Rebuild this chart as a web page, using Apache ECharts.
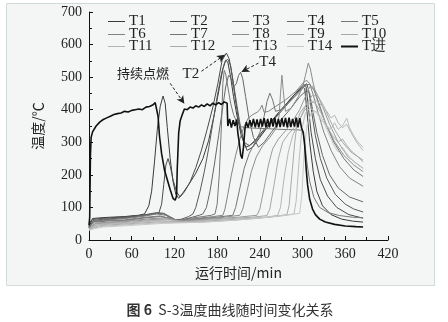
<!DOCTYPE html>
<html>
<head>
<meta charset="utf-8">
<script src="https://cdn.jsdelivr.net/npm/echarts@6/dist/echarts.min.js"></script>
<style>
  html, body { margin: 0; padding: 0; background: #ffffff; }
  #chart { width: 448px; height: 322px; }
</style>
</head>
<body>
<div id="chart"></div>
<script>
// Series names, in legend order
const seriesNames = ['T1','T2','T3','T4','T5','T6','T7','T8','T9','T10','T11','T12','T13','T14','T进'];

// Axis ticks
const xTicks = [0, 60, 120, 180, 240, 300, 360, 420];
const yTicks = [0, 100, 200, 300, 400, 500, 600, 700];

// Temperature readings, [time (min), temperature (°C)]
const T1 = [[0,42],[2,55],[5,66],[15,68],[30,70],[50,72],[70,76],[78,80],[84,105],[88,150],[92,240],[96,340],[100,410],[104,442],[107,420],[110,345],[114,250],[118,180],[122,140],[126,128],[132,145],[140,170],[150,205],[160,250],[168,305],[176,385],[183,465],[188,525],[192,552],[195,546],[199,500],[203,440],[208,380],[214,320],[220,285],[226,290],[235,310],[248,345],[262,380],[276,415],[290,450],[300,470],[303,465],[306,400],[310,300],[315,210],[320,150],[328,105],[340,78],[355,64],[370,58],[385,55]];
const T2 = [[0,40],[2,52],[5,63],[15,66],[30,68],[50,71],[70,75],[90,80],[98,82],[102,110],[105,170],[108,230],[111,250],[114,228],[118,185],[123,148],[128,132],[134,148],[142,178],[150,222],[158,276],[166,340],[174,408],[181,480],[187,552],[193,574],[197,556],[201,505],[205,440],[210,370],[216,310],[222,275],[230,285],[240,315],[252,350],[266,390],[280,425],[294,460],[302,478],[305,470],[308,410],[312,330],[318,250],[325,185],[335,135],[348,100],[365,78],[385,67]];
const T3 = [[0,38],[3,50],[6,60],[20,64],[40,67],[60,72],[80,78],[95,84],[105,82],[115,70],[122,62],[130,64],[140,72],[146,80],[150,100],[156,150],[162,210],[168,280],[174,360],[180,440],[186,510],[191,548],[195,555],[199,535],[203,480],[208,410],[213,345],[218,300],[225,290],[235,305],[248,340],[262,375],[276,410],[290,445],[300,470],[306,480],[309,455],[313,390],[318,320],[325,250],[334,190],[346,140],[360,110],[372,95],[385,86]];
const T4 = [[0,37],[3,48],[6,58],[20,62],[40,66],[60,70],[80,76],[95,82],[105,80],[115,68],[122,60],[132,62],[145,70],[155,76],[160,80],[165,100],[170,150],[176,230],[182,320],[188,410],[192,470],[196,505],[199,500],[203,470],[207,480],[210,505],[213,515],[216,495],[220,440],[225,370],[231,315],[238,285],[246,300],[256,330],[268,365],[282,400],[296,440],[306,460],[310,450],[314,400],[320,330],[328,260],[338,200],[350,160],[366,132],[385,117]];
const T5 = [[0,36],[3,46],[6,56],[20,60],[40,64],[60,68],[80,74],[95,80],[108,76],[118,64],[125,60],[140,66],[160,72],[172,76],[177,80],[180,110],[183,200],[186,350],[188,480],[190,521],[192,510],[195,470],[199,420],[203,385],[208,360],[213,348],[220,345],[235,343],[250,342],[265,340],[280,339],[295,338],[300,336],[303,300],[306,240],[310,180],[316,130],[324,100],[336,84],[352,75],[370,70],[385,68]];
const T6 = [[0,40],[4,50],[8,58],[25,60],[50,62],[80,70],[100,74],[115,66],[125,60],[150,66],[175,72],[188,76],[191,95],[195,140],[200,200],[206,260],[212,310],[218,350],[224,375],[230,385],[236,392],[240,400],[243,414],[246,392],[252,395],[262,410],[276,430],[290,455],[302,485],[306,490],[310,480],[315,445],[322,390],[330,330],[340,275],[352,225],[366,190],[385,165]];
const T7 = [[0,38],[4,48],[8,55],[25,58],[50,60],[80,68],[100,72],[118,64],[128,58],[150,64],[180,70],[202,76],[206,100],[212,160],[218,220],[225,265],[232,295],[240,330],[246,380],[250,425],[254,451],[258,430],[262,395],[270,400],[282,425],[296,455],[304,475],[310,478],[316,460],[323,420],[332,360],[344,300],[358,250],[372,215],[385,195]];
const T8 = [[0,36],[5,45],[10,52],[30,55],[60,60],[90,66],[110,68],[120,62],[130,58],[160,64],[190,70],[212,76],[216,95],[222,150],[228,210],[235,255],[244,290],[254,315],[262,340],[267,380],[269,450],[271,506],[273,455],[276,395],[284,405],[294,440],[300,470],[304,505],[308,543],[311,525],[315,480],[322,420],[332,360],[344,305],[358,260],[372,230],[385,210]];
const T9 = [[0,35],[5,43],[10,50],[30,53],[60,58],[90,63],[110,64],[125,58],[140,58],[170,64],[210,70],[236,76],[240,95],[246,160],[252,230],[258,280],[266,310],[276,335],[286,365],[296,400],[304,440],[310,470],[314,472],[320,450],[328,410],[338,355],[350,300],[364,255],[385,220]];
const T10 = [[0,34],[6,42],[12,48],[30,51],[60,55],[90,60],[115,62],[130,57],[160,60],[200,66],[230,70],[250,75],[254,95],[260,170],[266,250],[272,300],[280,325],[290,350],[298,380],[306,420],[314,445],[322,440],[330,410],[338,370],[346,335],[356,300],[368,270],[385,245]];
const T11 = [[0,33],[6,40],[12,46],[30,49],[60,53],[90,58],[120,58],[140,56],[180,60],[220,66],[250,70],[265,76],[269,100],[274,190],[280,270],[286,320],[294,360],[302,395],[310,420],[318,430],[326,415],[334,395],[340,375],[345,383],[350,360],[356,345],[362,355],[368,330],[376,300],[385,275]];
const T12 = [[0,32],[6,38],[15,44],[35,47],[65,51],[95,55],[125,56],[150,55],[190,60],[230,66],[260,72],[278,78],[281,105],[285,200],[289,300],[293,370],[297,392],[303,410],[310,425],[318,420],[326,390],[334,350],[342,320],[350,300],[356,310],[362,290],[370,270],[378,255],[385,240]];
const T13 = [[0,31],[8,37],[18,42],[40,45],[70,49],[100,53],[130,54],[160,55],[200,60],[240,67],[270,74],[288,80],[291,120],[295,240],[299,340],[304,390],[310,405],[318,395],[326,370],[334,350],[340,340],[345,360],[350,340],[356,350],[362,374],[366,345],[372,320],[378,300],[385,285]];
const T14 = [[0,30],[8,35],[20,40],[45,43],[75,47],[105,51],[135,53],[170,56],[210,62],[250,70],[280,77],[296,82],[299,140],[302,260],[306,350],[312,390],[320,395],[328,370],[336,330],[344,290],[350,270],[356,285],[362,265],[370,245],[378,230],[385,220]];
const Tjin = [[0,45],[1,70],[2,260],[3,315],[5,332],[10,350],[15,362],[20,370],[25,375],[30,380],[35,385],[40,388],[45,390],[50,395],[55,393],[60,398],[65,400],[70,402],[75,400],[80,408],[85,410],[90,415],[93,422],[95,418],[97,380],[99,320],[102,265],[106,215],[110,185],[114,155],[118,128],[121,122],[123,135],[124,220],[126,330],[128,365],[131,385],[134,402],[138,400],[142,408],[146,405],[150,412],[154,408],[158,415],[162,410],[166,418],[170,412],[174,420],[178,415],[182,422],[186,416],[190,424],[194,420],[195,350],[197.5,372],[200,345],[202.5,368],[205,350],[207.5,370],[209,330],[211,300],[213,262],[215,250],[217,285],[219,340],[221,362],[223.5,345],[226,368],[228.5,348],[231,372],[233.5,346],[236,370],[238.5,346],[241,372],[243.5,348],[246,374],[248.5,347],[251,372],[253.5,346],[256,374],[258.5,348],[261,375],[263.5,346],[266,372],[268.5,347],[271,374],[273.5,348],[276,375],[278.5,346],[281,376],[283.5,347],[286,372],[288.5,348],[291,376],[293.5,346],[296,374],[298.5,344],[301,330],[303,290],[305,220],[307,170],[310,125],[314,95],[318,78],[324,64],[332,55],[345,48],[360,43],[375,41],[385,40]];

const seriesData = [T1,T2,T3,T4,T5,T6,T7,T8,T9,T10,T11,T12,T13,T14,Tjin];

// Annotation anchors in data units
const ignitionLabel = { text: '持续点燃', at: [76, 512] };
const ignitionArrow = [[114, 481], [134, 418]];
const t2Label = { text: 'T2', at: [143, 509] };
const t2Arrow = [[158, 518], [191, 569]];
const t4Label = { text: 'T4', at: [251, 546] };
const t4Arrow = [[238, 543], [214, 516]];

// Stroke colours per series
const lineColors = ['#3a3a3a','#4a4a4a','#585858','#666666','#777777','#828282','#747474','#8c8c8c','#9a9a9a','#a8a8a8','#b4b4b4','#aaaaaa','#bcbcbc','#c8c8c8','#111111'];

// Legend grid: 5 columns × 3 rows
const legendCols = [108, 170, 232, 287, 341];
const legendRows = [14, 27, 39];

const serif = '"Liberation Serif", "Times New Roman", serif';
const cjk = '"Noto Sans CJK SC", sans-serif';

const chart = echarts.init(document.getElementById('chart'), null, { renderer: 'canvas' });

const legends = seriesNames.map((name, i) => ({
  data: [name],
  left: legendCols[i % 5],
  top: legendRows[Math.floor(i / 5)],
  padding: 0,
  icon: 'rect',
  itemWidth: 17,
  itemHeight: name === 'T进' ? 2 : 1,
  selectedMode: false,
  textStyle: { fontFamily: serif, fontSize: 15, color: '#222', padding: [0, 0, 0, -1] }
}));

const arrowLine = (pair) => [
  { coord: pair[0], symbol: 'none' },
  { coord: pair[1], symbol: 'arrow' }
];

const series = seriesNames.map((name, i) => {
  const s = {
    name,
    type: 'line',
    data: seriesData[i],
    symbol: 'none',
    smooth: false,
    animation: false,
    z: name === 'T进' ? 5 : 3,
    lineStyle: { color: lineColors[i], width: name === 'T进' ? 1.6 : 1 },
    itemStyle: { color: lineColors[i] }
  };
  if (name === 'T进') {
    s.markLine = {
      silent: true,
      animation: false,
      symbolSize: [6, 8],
      label: { show: false },
      lineStyle: { type: [3, 2], color: '#222', width: 1 },
      data: [arrowLine(ignitionArrow), arrowLine(t2Arrow), arrowLine(t4Arrow)]
    };
  }
  return s;
});

chart.setOption({
  animation: false,
  backgroundColor: '#ffffff',
  grid: { left: 89, right: 60, top: 12, bottom: 82 },
  legend: legends,
  xAxis: {
    type: 'value',
    min: xTicks[0],
    max: xTicks[xTicks.length - 1],
    interval: 60,
    name: '运行时间/min',
    nameLocation: 'middle',
    nameGap: 26,
    nameTextStyle: { fontFamily: cjk, fontSize: 14, color: '#222' },
    axisLine: { show: true, lineStyle: { color: '#111', width: 1 } },
    axisTick: { show: true, inside: true, length: 4, lineStyle: { color: '#111' } },
    minorTick: { show: true, splitNumber: 2, length: 3, lineStyle: { color: '#111' } },
    splitLine: { show: false },
    axisLabel: { fontFamily: serif, fontSize: 14, color: '#222', margin: 7,
                 formatter: (v) => xTicks.includes(v) ? String(v) : '' }
  },
  yAxis: {
    type: 'value',
    min: yTicks[0],
    max: yTicks[yTicks.length - 1],
    interval: 100,
    name: '温度/℃',
    nameLocation: 'middle',
    nameGap: 44,
    nameTextStyle: { fontFamily: cjk, fontSize: 14, color: '#222' },
    axisLine: { show: true, lineStyle: { color: '#111', width: 1 } },
    axisTick: { show: true, inside: true, length: 4, lineStyle: { color: '#111' } },
    minorTick: { show: true, splitNumber: 2, length: 3, lineStyle: { color: '#111' } },
    splitLine: { show: false },
    axisLabel: { fontFamily: serif, fontSize: 14, color: '#222', margin: 7,
                 formatter: (v) => yTicks.includes(v) ? String(v) : '' }
  },
  series
});

// Panel, caption and annotation texts placed through the axes
const px = (p) => chart.convertToPixel({ gridIndex: 0 }, p);
const textAt = (label, font, size) => {
  const p = px(label.at);
  return {
    type: 'text', x: p[0], y: p[1], z: 50, silent: true,
    style: { text: label.text, font: size + 'px ' + font, fill: '#222',
             align: 'center', verticalAlign: 'middle' }
  };
};

chart.setOption({
  graphic: [
    {
      type: 'rect', z: -100, silent: true,
      shape: { x: 6.5, y: 3.5, width: 428, height: 282 },
      style: { fill: '#f4f6f6', stroke: '#d3dada', lineWidth: 1 }
    },
    textAt(ignitionLabel, cjk, 13),
    textAt(t2Label, serif, 15),
    textAt(t4Label, serif, 15),
    {
      type: 'text', x: 230, y: 310, silent: true,
      style: {
        text: '{b|图 6}  S-3温度曲线随时间变化关系',
        font: '14px ' + cjk, fill: '#333', align: 'center', verticalAlign: 'middle',
        rich: { b: { fontWeight: 'bold', fontSize: 14, fontFamily: cjk, fill: '#333' } }
      }
    }
  ]
});
</script>
</body>
</html>
